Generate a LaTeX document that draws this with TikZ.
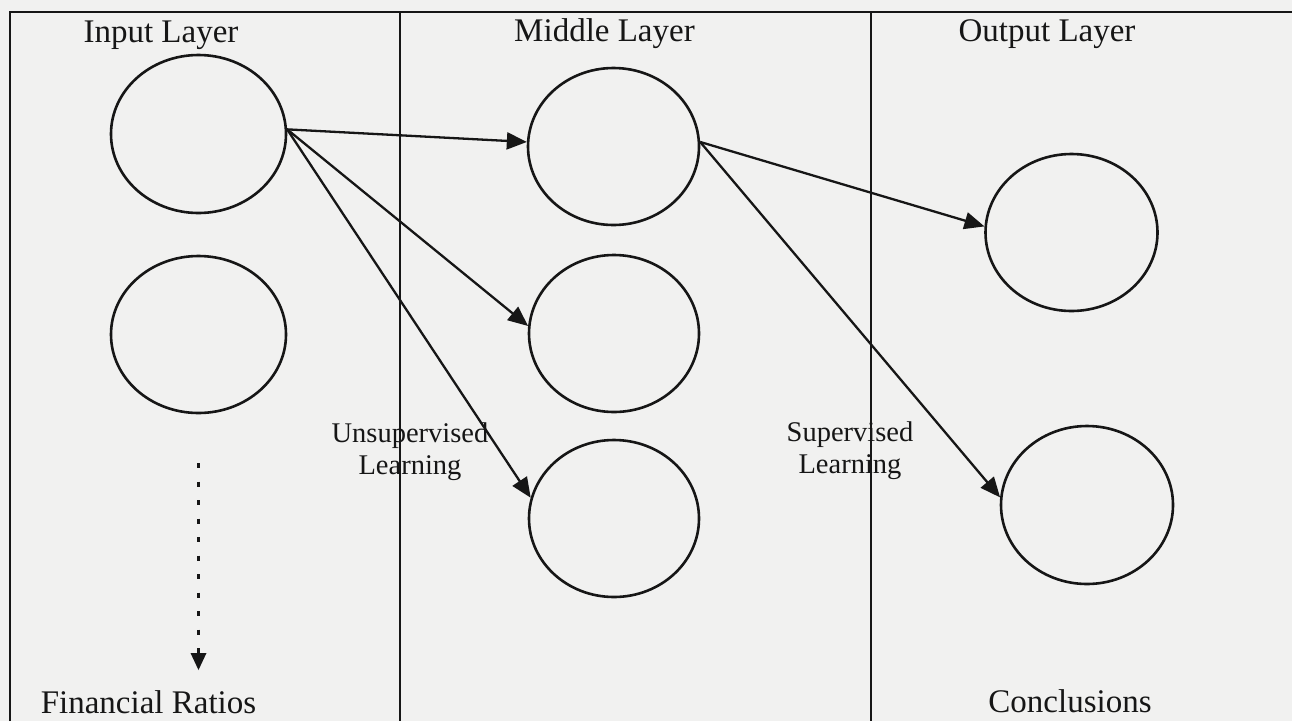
\documentclass[tikz,border=0pt]{standalone}
\usepackage{fontspec}
\setmainfont{Liberation Serif}
\usetikzlibrary{shapes.geometric,arrows.meta}
\begin{document}
\begin{tikzpicture}[x=1pt,y=-1pt,
  neuron/.style={draw=ink,ellipse,line width=2.6pt,inner sep=0pt,minimum width=172pt,minimum height=157pt},
  head/.style={anchor=base,inner sep=0pt,text=ink,font=\fontsize{33}{40}\selectfont},
  lbl/.style={anchor=base,inner sep=0pt,text=ink,align=center,font=\fontsize{28.5}{32}\selectfont},
  link/.style={draw=ink,line width=2.3pt,-{Triangle[length=20pt,width=17pt]}},
  frame/.style={draw=ink,line width=2pt}]
\definecolor{ink}{HTML}{161616}
\definecolor{paper}{HTML}{F1F1F0}
\fill[paper] (0,0) rectangle (1292,721);
\useasboundingbox (0,0) rectangle (1292,721);
% frame and column dividers
\coordinate (fbl) at (10,721);
\coordinate (ftl) at (10,12);
\coordinate (ftr) at (1292,12);
\coordinate (d1t) at (400,12);
\coordinate (d1b) at (400,721);
\coordinate (d2t) at (871,12);
\coordinate (d2b) at (871,721);
\draw[frame] (fbl) -- (ftl) -- (ftr);
\draw[frame] (d1t) -- (d1b);
\draw[frame] (d2t) -- (d2b);
% headings
\node[head] (hin) at (161,42) {Input Layer};
\node[head] (hmid) at (604.5,41) {Middle Layer};
\node[head] (hout) at (1047,41) {Output Layer};
\node[head] (fin) at (148.5,713) {Financial Ratios};
\node[head] (con) at (1070,712) {Conclusions};
% neurons
\node[neuron,minimum width=175pt,minimum height=158pt] (in1) at (198.5,134) {};
\node[neuron,minimum width=175pt] (in2) at (198.5,334.5) {};
\node[neuron,minimum width=171pt] (mid1) at (613.5,146.5) {};
\node[neuron,minimum width=170pt] (mid2) at (614,333.5) {};
\node[neuron,minimum width=170pt] (mid3) at (614,518.5) {};
\node[neuron] (out1) at (1071.5,232.5) {};
\node[neuron,minimum height=158pt] (out2) at (1087,505) {};
% labels
\node[lbl] (unsup) at (410,474) {Unsupervised\\Learning};
\node[lbl] (sup) at (850,473) {Supervised\\Learning};
% connectors
\draw[link] (in1.3) -- (mid1.177);
\draw[link] (in1.3) -- (mid2.175);
\draw[link] (in1.3) -- (mid3.166);
\draw[link] (mid1.3) -- (out1.176);
\draw[link] (mid1.3) -- (out2.175);
% dotted arrow
\coordinate (dots) at (198.5,463);
\coordinate (dmid) at (198.5,653);
\coordinate (dote) at (198.5,670);
\draw[draw=ink,line width=2.2pt,dash pattern=on 5pt off 13.5pt] (dots) -- (dmid);
\fill[ink] (dote) -- ++(-8,-17) -- ++(16,0) -- cycle;
\end{tikzpicture}
\end{document}
